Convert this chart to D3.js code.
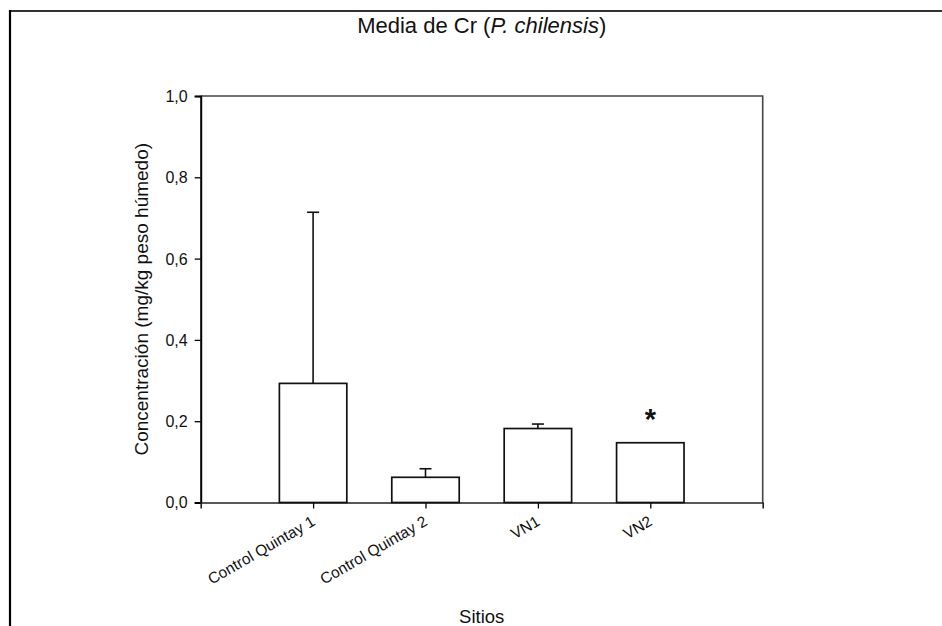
<!DOCTYPE html>
<html>
<head>
<meta charset="utf-8">
<script src="https://cdn.jsdelivr.net/npm/d3@7"></script>
<style>
  html, body { margin: 0; padding: 0; background: #fff; }
  svg { display: block; font-family: "Liberation Sans", Arial, sans-serif; }
</style>
</head>
<body>
<svg id="chart" width="942" height="626"></svg>
<script>
// Mean Cr concentration per site, with standard-deviation error bars
const sites = ["Control Quintay 1", "Control Quintay 2", "VN1", "VN2"];
const means = [0.293, 0.062, 0.182, 0.147];
const errors = [0.421, 0.021, 0.011, 0];
const significant = [false, false, false, true];
const yTicks = [0, 0.2, 0.4, 0.6, 0.8, 1.0];

const svg = d3.select("#chart");
const plot = { left: 200.7, right: 762.7, top: 96, bottom: 502.5 };

// Outer frame of the figure
svg.append("line").attr("x1", 9).attr("x2", 942).attr("y1", 11).attr("y2", 11)
  .attr("stroke", "#333").attr("stroke-width", 2);
svg.append("line").attr("x1", 10).attr("x2", 10).attr("y1", 10).attr("y2", 626)
  .attr("stroke", "#000").attr("stroke-width", 2.2);

// Sites sit at positions 1..4 on a 0..5 axis
const x = d3.scaleLinear().domain([0, sites.length + 1]).range([plot.left, plot.right]);
const y = d3.scaleLinear().domain([0, 1]).range([plot.bottom, plot.top]);
const barW = x(0.6) - x(0);

const fmt = d => d3.format(".1f")(d).replace(".", ",");

// Plot box: top and right edges
svg.append("path")
  .attr("d", `M${plot.left},${plot.top}H${plot.right}V${plot.bottom}`)
  .attr("fill", "none").attr("stroke", "#444").attr("stroke-width", 1.6);

// Y axis
const yAxis = svg.append("g")
  .attr("transform", `translate(${plot.left},0)`)
  .call(d3.axisLeft(y).tickValues(yTicks).tickFormat(fmt).tickSize(6).tickPadding(7));
yAxis.select(".domain").attr("stroke", "#000").attr("stroke-width", 2);
yAxis.selectAll(".tick line").attr("stroke", "#000").attr("stroke-width", 1.3);
yAxis.selectAll(".tick text")
  .attr("font-family", "Liberation Sans, Arial, sans-serif")
  .attr("font-size", 16).attr("fill", "#111").attr("dy", "0.34em");

// X axis
const xAxis = svg.append("g")
  .attr("transform", `translate(0,${plot.bottom})`)
  .call(d3.axisBottom(x).tickValues(d3.range(1, sites.length + 1)).tickSize(6).tickFormat(""));
xAxis.select(".domain").attr("stroke", "#222").attr("stroke-width", 1.6);
xAxis.selectAll(".tick line").attr("stroke", "#000").attr("stroke-width", 1.3);

// Rotated site labels
svg.append("g").selectAll("text")
  .data(sites)
  .join("text")
  .attr("transform", (d, i) => `translate(${x(i + 1) + 3},${plot.bottom + 22}) rotate(-30)`)
  .attr("text-anchor", "end")
  .attr("font-size", 15.5)
  .attr("fill", "#111")
  .text(d => d);

// Bars
const bars = svg.append("g");
bars.selectAll("rect")
  .data(means)
  .join("rect")
  .attr("x", (d, i) => x(i + 1) - barW / 2)
  .attr("y", d => y(d))
  .attr("width", barW)
  .attr("height", d => y(0) - y(d))
  .attr("fill", "#fff")
  .attr("stroke", "#111")
  .attr("stroke-width", 1.7);

// Upper error bars
const capW = 12;
const eb = svg.append("g").attr("stroke", "#111").attr("stroke-width", 1.6);
means.forEach((m, i) => {
  if (errors[i] <= 0) return;
  const cx = x(i + 1);
  eb.append("line").attr("x1", cx).attr("x2", cx).attr("y1", y(m)).attr("y2", y(m + errors[i]));
  eb.append("line").attr("x1", cx - capW / 2).attr("x2", cx + capW / 2)
    .attr("y1", y(m + errors[i])).attr("y2", y(m + errors[i]));
});

// Significance marker
svg.append("g").selectAll("text")
  .data(means.map((m, i) => ({ m, i })).filter(d => significant[d.i]))
  .join("text")
  .attr("x", d => x(d.i + 1))
  .attr("y", d => y(d.m + errors[d.i]) - 14)
  .attr("text-anchor", "middle")
  .attr("font-size", 29)
  .attr("font-weight", "bold")
  .attr("fill", "#111")
  .text("*");

// Titles
svg.append("text")
  .attr("x", (plot.left + plot.right) / 2).attr("y", 33.3)
  .attr("text-anchor", "middle").attr("font-size", 22).attr("fill", "#111")
  .call(t => {
    t.append("tspan").text("Media de Cr (");
    t.append("tspan").attr("font-style", "italic").text("P. chilensis");
    t.append("tspan").text(")");
  });

svg.append("text")
  .attr("transform", `translate(148,${(plot.top + plot.bottom) / 2}) rotate(-90)`)
  .attr("text-anchor", "middle").attr("font-size", 19).attr("fill", "#111")
  .text("Concentración (mg/kg peso húmedo)");

svg.append("text")
  .attr("x", (plot.left + plot.right) / 2).attr("y", 623)
  .attr("text-anchor", "middle").attr("font-size", 18.5).attr("fill", "#111")
  .text("Sitios");
</script>
</body>
</html>
